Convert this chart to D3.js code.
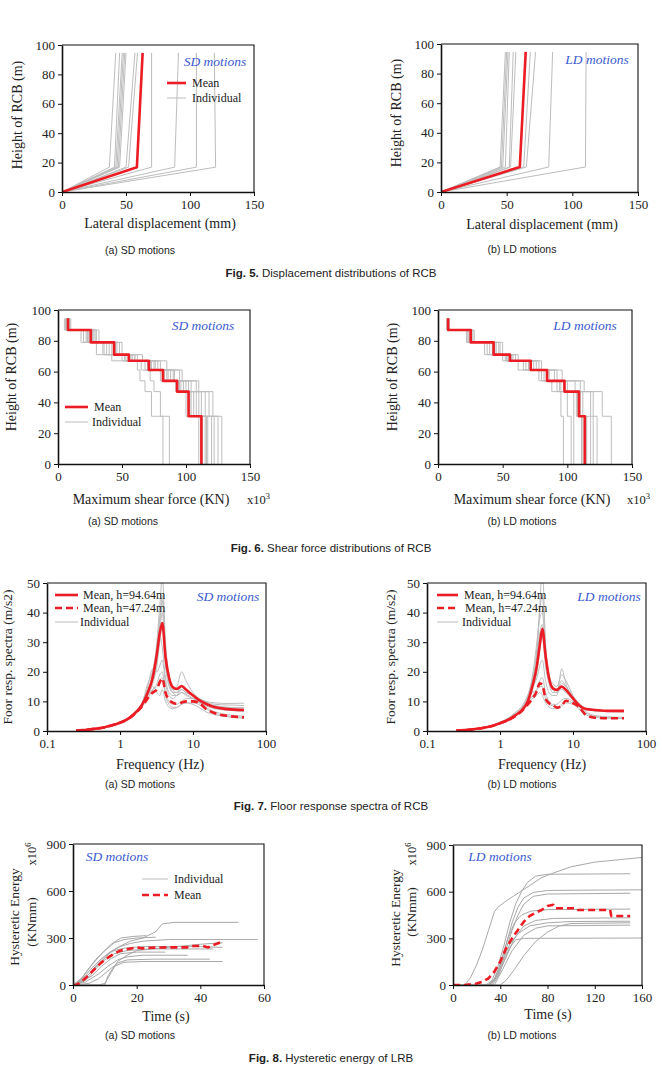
<!DOCTYPE html>
<html>
<head>
<meta charset="utf-8">
<script src="https://cdn.jsdelivr.net/npm/d3@7"></script>
<style>
body{margin:0;background:#fff;}
svg text{font-family:"Liberation Serif","Times New Roman",serif;fill:#222;}
svg text.cap{font-family:"Liberation Sans",Arial,sans-serif;}
</style>
</head>
<body>
<svg id="fig" width="662" height="1080"></svg>
<script>

// =========
// Data
// =========

// Fig. 5 - lateral displacement (mm) at heights 0, knee, roof
var dispHeights = [0, 16.9, 94.64];
var sdDispMean = [0, 58.5, 63];
var sdDispIndividual = [
    [0, 37, 42], [0, 41, 45], [0, 42, 47], [0, 43, 48], [0, 44, 49], [0, 45, 50],
    [0, 50, 57], [0, 52, 59], [0, 70, 70], [0, 88, 91], [0, 105, 105], [0, 120, 119]
];
var ldDispMean = [0, 60, 64.5];
var ldDispIndividual = [
    [0, 45, 49], [0, 46, 50], [0, 47, 51], [0, 49, 52], [0, 52, 55], [0, 53, 57],
    [0, 63, 68], [0, 65, 72], [0, 82, 85], [0, 110, 110.5]
];

// Fig. 6 - max shear force (x10^3 KN), one value per storey band
var shearHeights = [94.64, 87, 79, 71, 67, 61, 54, 47, 31, 0];
var sdShearMean = [7.8, 25.6, 43.8, 55.3, 71, 82, 93, 102, 112];
var sdShearIndividual = [
    [8, 25, 44, 56, 72, 83, 95, 103, 113],
    [6, 20, 30, 42, 62, 64, 68, 73, 82],
    [9, 28, 40, 52, 65, 72, 75, 80, 87],
    [7, 22, 38, 60, 78, 90, 100, 108, 115],
    [10, 30, 48, 62, 80, 95, 108, 118, 125],
    [5, 24, 42, 55, 70, 85, 92, 100, 110],
    [8, 27, 46, 58, 75, 88, 102, 115, 122],
    [7, 18, 35, 50, 68, 80, 98, 110, 117],
    [9, 32, 50, 66, 85, 97, 110, 121, 128],
    [6, 26, 44, 53, 73, 82, 94, 104, 112],
    [8, 23, 36, 57, 76, 91, 104, 112, 120],
    [7, 29, 45, 60, 70, 86, 96, 106, 116]
];
var ldShearMean = [7.8, 25.3, 43, 55.6, 71.7, 84.3, 97.8, 109, 113.5];
var ldShearIndividual = [
    [8, 25, 42, 55, 70, 84, 97, 108, 112],
    [7, 24, 38, 50, 62, 78, 88, 95, 97],
    [8, 26, 45, 57, 74, 86, 100, 110, 115],
    [7, 23, 40, 53, 68, 80, 94, 105, 105],
    [8, 27, 48, 60, 80, 92, 110, 120, 123],
    [9, 28, 50, 62, 78, 96, 113, 127, 134],
    [8, 25, 44, 56, 72, 85, 98, 112, 118],
    [7, 22, 36, 52, 66, 82, 92, 100, 103],
    [8, 26, 47, 58, 76, 90, 106, 118, 120],
    [8, 24, 43, 54, 71, 84, 95, 107, 111]
];

// Fig. 7 - floor response spectra (m/s2)
var freqs = [0.25, 0.4, 0.6, 0.8, 1.0, 1.3, 1.6, 2.0, 2.4, 2.8, 3.2, 3.5, 3.8, 4.2, 4.7, 5.3, 6.0, 7.0, 8.0, 10, 12, 15, 20, 30, 50];
var sdSpecTop = [0.1, 0.6, 1.2, 2.0, 2.8, 4.2, 6.0, 8.8, 13, 18, 26, 33, 36.5, 25, 18, 14.8, 14.2, 15.2, 14, 12, 10.5, 9.2, 8, 7.4, 7.1];
var sdSpecMid = [0.1, 0.6, 1.2, 2.0, 2.8, 4.1, 5.8, 8.3, 11, 13, 14, 16.5, 17.8, 13, 10.5, 9.6, 9.2, 9.6, 10, 10, 9.6, 7.5, 6.0, 5.1, 4.6];
var sdSpecIndividual = [
    [0.1, 0.5, 1.1, 1.9, 2.7, 4.0, 5.8, 8.5, 13, 20, 30, 42, 52, 30, 19, 15, 14, 15, 14, 12, 10, 9, 8, 7.5, 7.2],
    [0.1, 0.6, 1.3, 2.1, 3.0, 4.5, 6.5, 9.5, 15, 21, 20, 22, 24, 16, 12, 11, 12, 14, 13, 12, 11, 10, 9.5, 9.3, 9.4],
    [0.1, 0.5, 1.0, 1.8, 2.6, 3.8, 5.5, 8.0, 11, 14, 16, 19, 20, 13, 10, 9, 9, 10, 11, 11, 10, 8, 6.5, 5.5, 5],
    [0.1, 0.6, 1.2, 2.0, 2.9, 4.3, 6.2, 9.0, 14, 18, 28, 38, 44, 26, 17, 14, 15, 20, 17, 13, 11, 9.5, 8.5, 8, 7.8],
    [0.1, 0.5, 1.1, 1.9, 2.7, 4.0, 5.6, 8.2, 12, 15, 13, 12, 14, 10, 8, 7.5, 8, 9, 9.5, 9, 8, 6.5, 5.5, 4.8, 4.3],
    [0.1, 0.6, 1.2, 2.1, 3.0, 4.4, 6.3, 9.2, 16, 20, 26, 34, 40, 24, 16, 13, 12, 13, 12, 11, 10, 9, 8.5, 8, 7.8],
    [0.1, 0.5, 1.1, 1.9, 2.8, 4.1, 5.9, 8.6, 12, 16, 22, 30, 36, 22, 15, 13, 13, 14, 13, 12, 11, 9.8, 9, 8.8, 8.6],
    [0.1, 0.6, 1.2, 2.0, 2.9, 4.2, 6.0, 8.8, 13, 17, 24, 32, 28, 18, 13, 12, 12, 13, 12.5, 11, 9.5, 8.5, 7.5, 7, 6.6],
    [0.1, 0.5, 1.0, 1.8, 2.6, 3.9, 5.7, 8.3, 12, 19, 25, 36, 46, 28, 17, 14, 13, 15, 14, 12, 10.5, 9.2, 8, 7.2, 6.8],
    [0.1, 0.5, 1.1, 1.9, 2.7, 4.0, 5.8, 8.4, 12, 14, 15, 17, 18, 12, 9, 8, 8, 9, 9.5, 9.5, 9, 7.5, 6, 5, 4.6]
];
var ldSpecTop = [0.1, 0.5, 1.1, 1.8, 2.6, 3.8, 5.2, 7.1, 10, 15.5, 22, 29, 34.5, 25.7, 17.8, 14.4, 13.9, 15, 13.9, 11, 8.8, 7.4, 7.1, 6.8, 6.8];
var ldSpecMid = [0.1, 0.5, 1.1, 1.8, 2.6, 3.7, 4.9, 6.8, 9, 11, 13.5, 16.1, 15.6, 11, 9.4, 8.8, 7.9, 8.6, 10.2, 9.4, 8.2, 5.4, 4.5, 4.3, 4.3];
var ldSpecIndividual = [
    [0.1, 0.5, 1.1, 1.8, 2.7, 4.0, 5.5, 7.5, 11, 17, 28, 42, 55, 30, 18, 14, 13, 14, 13, 10.5, 8.5, 7.2, 6.8, 6.6, 6.5],
    [0.1, 0.5, 1.0, 1.7, 2.5, 3.6, 5.0, 7.0, 10, 14, 20, 27, 32, 22, 16, 13, 13, 15, 14, 11, 9, 7.5, 7, 6.8, 6.8],
    [0.1, 0.6, 1.2, 2.0, 3.0, 4.4, 6.0, 8.0, 11, 13, 14, 15, 15, 11, 9, 8.5, 8, 9, 10, 9.5, 8, 6, 5, 4.6, 4.4],
    [0.1, 0.5, 1.1, 1.9, 2.8, 4.1, 5.6, 7.6, 12, 19, 30, 38, 40, 27, 19, 16, 15, 19, 17, 12, 9.5, 7.8, 7.2, 6.9, 6.8],
    [0.1, 0.5, 1.0, 1.7, 2.5, 3.7, 5.1, 7.2, 9.5, 12, 14, 17, 18, 13, 10, 9, 9, 10.5, 11, 10, 8.5, 6.5, 5.2, 4.8, 4.6],
    [0.1, 0.5, 1.1, 1.8, 2.6, 3.8, 5.3, 7.3, 10.5, 16, 25, 33, 36, 24, 17, 14, 14, 16, 15, 11.5, 9, 7.5, 7, 6.7, 6.6],
    [0.1, 0.6, 1.2, 2.0, 2.9, 4.3, 6.2, 8.4, 12, 15, 18, 22, 24, 17, 13, 12, 12, 21, 16, 11, 8.8, 7.2, 6.8, 6.5, 6.4],
    [0.1, 0.5, 1.0, 1.8, 2.6, 3.7, 5.0, 6.9, 9, 11, 12, 13, 12, 9.5, 8, 7.5, 7.5, 8.5, 9.5, 9, 7.5, 5.5, 4.6, 4.3, 4.2],
    [0.1, 0.5, 1.1, 1.8, 2.7, 3.9, 5.4, 7.4, 11, 18, 26, 40, 46, 28, 18, 15, 14, 17, 15, 11.5, 9.2, 7.6, 7, 6.7, 6.6]
];

// Fig. 8 - hysteretic energy (x10^6 KNmm) vs time (s), [t, E]
var sdEnergyMean = [[0, 0], [1, 0], [2.3, 15], [4.4, 53], [6.5, 96], [8.6, 138], [10.6, 170], [12.2, 191], [14.8, 219], [16.9, 228],
    [20, 240], [21.6, 234], [24.2, 238], [29.4, 240], [35.7, 240], [37.8, 249], [40.9, 249], [42.5, 240], [44, 255], [47, 277]];
var sdEnergyIndividual = [
    [[0, 0], [3, 30], [6, 90], [9, 150], [12, 210], [15, 250], [18, 280], [22, 300], [26, 340], [28, 390], [32, 400], [52, 400]],
    [[0, 0], [2, 10], [5, 70], [8, 140], [11, 200], [14, 240], [18, 265], [22, 280], [30, 290], [58, 290]],
    [[0, 0], [2, 20], [4, 80], [7, 160], [10, 220], [13, 270], [16, 290], [20, 300], [26, 305]],
    [[0, 0], [3, 50], [6, 130], [9, 200], [12, 260], [15, 300], [19, 310], [23, 315]],
    [[0, 0], [2, 10], [6, 60], [9, 120], [12, 170], [15, 200], [20, 210], [29, 210]],
    [[0, 0], [4, 20], [8, 70], [11, 120], [14, 160], [17, 180], [22, 190], [36, 190]],
    [[0, 0], [5, 10], [8, 40], [11, 90], [14, 140], [17, 160], [25, 165], [43, 165]],
    [[0, 0], [10, 0], [11, 60], [13, 120], [16, 145], [22, 150], [47, 150]],
    [[0, 0], [3, 40], [6, 110], [9, 170], [12, 215], [16, 235], [22, 245], [40, 245], [47, 240]],
    [[0, 0], [4, 30], [7, 100], [10, 160], [13, 200], [17, 220], [24, 230], [44, 230]],
    [[0, 0], [8, 0], [10, 10], [12, 80], [14, 150], [17, 190], [20, 220], [30, 240], [40, 260], [47, 270]]
];
var ldEnergyMean = [[0, 0], [10, 0], [20, 10], [25, 21], [30, 43], [35, 86], [40, 150], [45, 236], [50, 300], [55, 354], [60, 407],
    [65, 444], [70, 465], [75, 482], [80, 508], [85, 516], [87, 493], [105, 493], [106, 482], [133, 482], [134, 444], [150, 444]];
var ldEnergyIndividual = [
    [[0, 0], [10, 0], [15, 50], [20, 130], [25, 230], [30, 350], [35, 470], [38, 500], [45, 540], [55, 590], [65, 640], [75, 690], [85, 720], [100, 760], [120, 790], [140, 805], [160, 820]],
    [[0, 0], [28, 0], [33, 30], [38, 120], [43, 250], [48, 400], [53, 520], [58, 600], [63, 660], [70, 700], [80, 712], [150, 715]],
    [[0, 0], [30, 0], [35, 40], [40, 130], [45, 260], [50, 400], [55, 500], [60, 560], [68, 595], [80, 608], [160, 612]],
    [[0, 0], [30, 0], [35, 30], [40, 110], [45, 230], [50, 350], [55, 450], [60, 520], [68, 570], [80, 585], [150, 590]],
    [[0, 0], [32, 0], [38, 60], [45, 180], [52, 300], [60, 380], [70, 415], [85, 428], [150, 432]],
    [[0, 0], [30, 0], [36, 40], [42, 150], [48, 260], [55, 330], [65, 380], [80, 400], [100, 408], [150, 410]],
    [[0, 0], [40, 0], [45, 30], [52, 100], [60, 190], [70, 280], [80, 340], [90, 380], [100, 395], [150, 400]],
    [[0, 0], [33, 0], [38, 50], [43, 150], [48, 240], [53, 290], [60, 300], [160, 302]],
    [[0, 0], [35, 0], [42, 100], [50, 220], [60, 320], [70, 365], [80, 380], [150, 385]],
    [[0, 0], [31, 0], [36, 50], [41, 160], [46, 290], [52, 400], [58, 450], [66, 475], [80, 485], [150, 488]]
];

var RED = '#ec1c24';
var GREY = '#bdbdbd';
var BLUE = '#3a5bd0';

var svg = d3.select('#fig');

// =========
// Panel
// =========

function Panel(box, x_scale, y_scale){
    var that = this;
    that.box = box;
    that.x = x_scale.range([box.left, box.right]);
    that.y = y_scale.range([box.bottom, box.top]);
    Panel.count = (Panel.count || 0) + 1;
    var id = 'clip' + Panel.count;
    svg.append('clipPath').attr('id', id).append('rect')
	.attr('x', box.left).attr('y', box.top)
	.attr('width', box.right - box.left).attr('height', box.bottom - box.top);
    that.g = svg.append('g');
    that.plot = that.g.append('g').attr('clip-path', 'url(#' + id + ')');
}

Panel.prototype.axes = function(x_ticks, y_ticks, x_fmt){
    var b = this.box;
    var xa = this.g.append('g')
	.attr('transform', 'translate(0,' + b.bottom + ')')
	.call(d3.axisBottom(this.x).tickValues(x_ticks).tickSize(4).tickSizeOuter(0).tickPadding(4)
	      .tickFormat(x_fmt || function(d){return d;}));
    var ya = this.g.append('g')
	.attr('transform', 'translate(' + b.left + ',0)')
	.call(d3.axisLeft(this.y).tickValues(y_ticks).tickSize(4).tickSizeOuter(0).tickPadding(3));
    [xa, ya].forEach(function(a){
	a.attr('font-family', null).attr('font-size', null);
	a.selectAll('text').style('font-size', '13px');
	a.select('.domain').attr('stroke', '#111').attr('stroke-width', 1.6);
	a.selectAll('.tick line').attr('stroke', '#111');
    });
    this.g.append('path')
	.attr('d', 'M' + b.left + ',' + b.top + 'H' + b.right + 'V' + b.bottom)
	.attr('fill', 'none').attr('stroke', '#111').attr('stroke-width', 1.1);
}

Panel.prototype.line = function(points, color, width, dash, curve){
    var that = this;
    var gen = d3.line()
	.x(function(d){return that.x(d[0]);})
	.y(function(d){return that.y(d[1]);});
    if(curve){ gen.curve(curve); }
    this.plot.append('path')
	.attr('d', gen(points))
	.attr('fill', 'none')
	.attr('stroke', color)
	.attr('stroke-width', width)
	.attr('stroke-dasharray', dash || null)
	.attr('stroke-linejoin', 'round');
}

function text(x, y, str, opts){
    opts = opts || {};
    var t = svg.append('text')
	.attr('x', x).attr('y', y)
	.attr('text-anchor', opts.anchor || 'middle')
	.style('font-size', (opts.size || 13.5) + 'px');
    if(opts.rotate){ t.attr('transform', 'rotate(-90,' + x + ',' + y + ')'); }
    if(opts.cls){ t.attr('class', opts.cls); }
    if(opts.italic){ t.style('font-style', 'italic'); }
    if(opts.color){ t.style('fill', opts.color); }
    t.text(str);
    return t;
}

function legendLine(x1, x2, y, color, width, dash){
    svg.append('line').attr('x1', x1).attr('x2', x2).attr('y1', y).attr('y2', y)
	.attr('stroke', color).attr('stroke-width', width).attr('stroke-dasharray', dash || null);
}

function figCaption(y, bold, rest){
    var t = svg.append('text').attr('class', 'cap').attr('x', 331).attr('y', y)
	.attr('text-anchor', 'middle').style('font-size', '11.5px');
    t.append('tspan').style('font-weight', 'bold').text(bold);
    t.append('tspan').text(rest);
}

function superText(x, y, base, sup, opts){
    opts = opts || {};
    var t = svg.append('text').attr('x', x).attr('y', y)
	.attr('text-anchor', opts.anchor || 'start').style('font-size', '12.5px');
    if(opts.rotate){ t.attr('transform', 'rotate(-90,' + x + ',' + y + ')'); }
    t.append('tspan').text(base);
    t.append('tspan').attr('dy', -5).style('font-size', '8.5px').text(sup);
}

// =========
// Fig. 5
// =========

function dispPanel(box, mean, individual){
    var p = new Panel(box, d3.scaleLinear().domain([0, 150]), d3.scaleLinear().domain([0, 100]));
    individual.forEach(function(d){
	p.line(d.map(function(v, i){return [v, dispHeights[i]];}), GREY, 1);
    });
    p.line(mean.map(function(v, i){return [v, dispHeights[i]];}), RED, 2.6);
    p.axes([0, 50, 100, 150], [0, 20, 40, 60, 80, 100]);
    return p;
}

dispPanel({left: 62, right: 254, top: 45, bottom: 192}, sdDispMean, sdDispIndividual);
text(22, 115, 'Height of RCB (m)', {rotate: true, size: 14});
text(160, 228, 'Lateral displacement (mm)', {size: 14});
text(215, 66, 'SD motions', {italic: true, color: BLUE});
legendLine(167, 186, 83, RED, 2.6);
text(192, 87, 'Mean', {anchor: 'start', size: 12});
legendLine(167, 186, 98, GREY, 1);
text(192, 102, 'Individual', {anchor: 'start', size: 12});
text(140, 254, '(a) SD motions', {cls: 'cap', size: 10.5});

dispPanel({left: 441, right: 638, top: 44, bottom: 192}, ldDispMean, ldDispIndividual);
text(401, 113, 'Height of RCB (m)', {rotate: true, size: 14});
text(542, 229, 'Lateral displacement (mm)', {size: 14});
text(597, 64, 'LD motions', {italic: true, color: BLUE});
text(522, 253, '(b) LD motions', {cls: 'cap', size: 10.5});

figCaption(277, 'Fig. 5.', ' Displacement distributions of RCB');

// =========
// Fig. 6
// =========

function stepPoints(values){
    var pts = [];
    values.forEach(function(v, i){
	pts.push([v, shearHeights[i]]);
	pts.push([v, shearHeights[i + 1]]);
    });
    return pts;
}

function shearPanel(box, mean, individual){
    var p = new Panel(box, d3.scaleLinear().domain([0, 150]), d3.scaleLinear().domain([0, 100]));
    individual.forEach(function(d){ p.line(stepPoints(d), GREY, 1); });
    p.line(stepPoints(mean), RED, 2.6);
    p.axes([0, 50, 100, 150], [0, 20, 40, 60, 80, 100]);
    return p;
}

shearPanel({left: 58, right: 250, top: 310, bottom: 464}, sdShearMean, sdShearIndividual);
text(16, 377, 'Height of RCB (m)', {rotate: true, size: 14});
text(151, 504, 'Maximum  shear force (KN)', {size: 14});
superText(247, 504, 'x10', '3');
text(203, 330, 'SD motions', {italic: true, color: BLUE});
legendLine(65, 88, 407, RED, 2.6);
text(94, 411, 'Mean', {anchor: 'start', size: 12});
legendLine(65, 88, 422, GREY, 1);
text(92, 426, 'Individual', {anchor: 'start', size: 12});
text(123, 525, '(a) SD motions', {cls: 'cap', size: 10.5});

shearPanel({left: 438, right: 632, top: 310, bottom: 464}, ldShearMean, ldShearIndividual);
text(397, 377, 'Height of RCB (m)', {rotate: true, size: 14});
text(532, 504, 'Maximum  shear force (KN)', {size: 14});
superText(627, 504, 'x10', '3');
text(585, 330, 'LD motions', {italic: true, color: BLUE});
text(522, 525, '(b) LD motions', {cls: 'cap', size: 10.5});

figCaption(552, 'Fig. 6.', ' Shear force distributions of RCB');

// =========
// Fig. 7
// =========

function zipFreq(values){
    return values.map(function(v, i){return [freqs[i], v];});
}

function specPanel(box, top, mid, individual){
    var p = new Panel(box, d3.scaleLog().domain([0.1, 100]), d3.scaleLinear().domain([0, 50]));
    individual.forEach(function(d){ p.line(zipFreq(d), GREY, 1, null, d3.curveMonotoneX); });
    p.line(zipFreq(top), RED, 2.6, null, d3.curveMonotoneX);
    p.line(zipFreq(mid), RED, 2.6, '7,4', d3.curveMonotoneX);
    p.axes([0.1, 1, 10, 100], [0, 10, 20, 30, 40, 50], function(d){return d < 1 ? '0.1' : d;});
    return p;
}

specPanel({left: 47, right: 266, top: 583, bottom: 731}, sdSpecTop, sdSpecMid, sdSpecIndividual);
text(12, 657, 'Foor resp. spectra (m/s2)', {rotate: true, size: 13.5});
text(160, 769, 'Frequency (Hz)', {size: 14});
text(228, 601, 'SD motions', {italic: true, color: BLUE});
legendLine(55, 78, 595, RED, 2.6);
text(83, 599, 'Mean, h=94.64m', {anchor: 'start', size: 12});
legendLine(55, 78, 608, RED, 2.6, '7,4');
text(83, 612, 'Mean, h=47.24m', {anchor: 'start', size: 12});
legendLine(55, 78, 622, GREY, 1);
text(80, 626, 'Individual', {anchor: 'start', size: 12});
text(140, 788, '(a) SD motions', {cls: 'cap', size: 10.5});

specPanel({left: 427, right: 646, top: 583, bottom: 731}, ldSpecTop, ldSpecMid, ldSpecIndividual);
text(395, 657, 'Foor resp. spectra (m/s2)', {rotate: true, size: 13.5});
text(542, 769, 'Frequency (Hz)', {size: 14});
text(609, 601, 'LD motions', {italic: true, color: BLUE});
legendLine(437, 458, 595, RED, 2.6);
text(464, 599, 'Mean, h=94.64m', {anchor: 'start', size: 12});
legendLine(437, 458, 608, RED, 2.6, '7,4');
text(465, 612, 'Mean, h=47.24m', {anchor: 'start', size: 12});
legendLine(437, 458, 622, GREY, 1);
text(462, 626, 'Individual', {anchor: 'start', size: 12});
text(522, 788, '(b) LD motions', {cls: 'cap', size: 10.5});

figCaption(810, 'Fig. 7.', ' Floor response spectra of RCB');

// =========
// Fig. 8
// =========

function energyPanel(box, x_max, x_ticks, mean, individual){
    var p = new Panel(box, d3.scaleLinear().domain([0, x_max]), d3.scaleLinear().domain([0, 900]));
    individual.forEach(function(d){ p.line(d, '#a8a8a8', 1); });
    p.line(mean, RED, 2.6, '7,4');
    p.axes(x_ticks, [0, 300, 600, 900]);
    return p;
}

energyPanel({left: 73, right: 264, top: 844, bottom: 985}, 60, [0, 20, 40, 60], sdEnergyMean, sdEnergyIndividual);
text(19, 917, 'Hysteretic Energy', {rotate: true, size: 13.5});
text(36, 922, '(KNmm)', {rotate: true, size: 13.5});
superText(36, 854, 'x10', '6', {rotate: true, anchor: 'middle'});
text(166, 1021, 'Time  (s)', {size: 14});
text(117, 861, 'SD motions', {italic: true, color: BLUE});
legendLine(142, 168, 879, GREY, 1);
text(174, 883, 'Individual', {anchor: 'start', size: 12});
legendLine(142, 168, 895, RED, 2.6, '7,4');
text(174, 899, 'Mean', {anchor: 'start', size: 12});
text(140, 1039, '(a) SD motions', {cls: 'cap', size: 10.5});

energyPanel({left: 453, right: 642, top: 845, bottom: 985}, 160, [0, 40, 80, 120, 160], ldEnergyMean, ldEnergyIndividual);
text(400, 918, 'Hysteretic Energy', {rotate: true, size: 13.5});
text(416, 912, '(KNmm)', {rotate: true, size: 13.5});
superText(416, 854, 'x10', '6', {rotate: true, anchor: 'middle'});
text(548, 1019, 'Time  (s)', {size: 14});
text(500, 861, 'LD motions', {italic: true, color: BLUE});
text(522, 1039, '(b) LD motions', {cls: 'cap', size: 10.5});

figCaption(1062, 'Fig. 8.', ' Hysteretic energy of LRB');

</script>
</body>
</html>
